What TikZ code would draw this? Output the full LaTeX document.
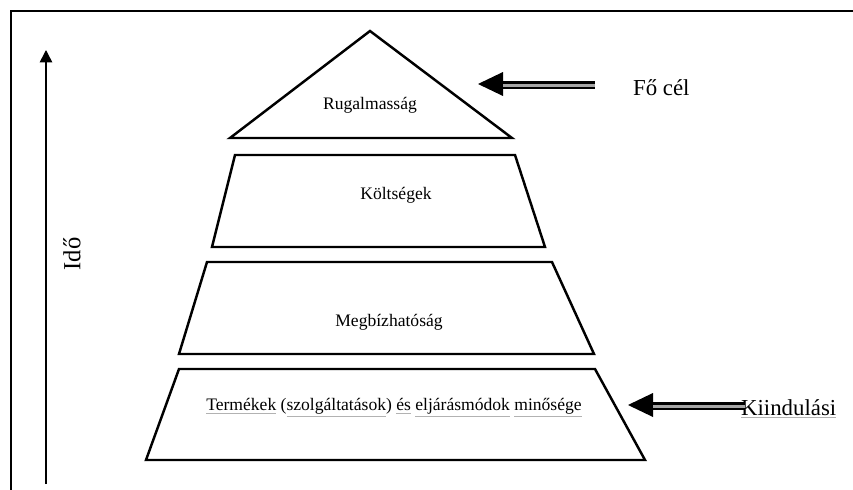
\documentclass[tikz,border=0pt]{standalone}
\usepackage{fontspec}
\setmainfont{Liberation Serif}
\usetikzlibrary{arrows.meta}

\newcommand{\spellul}[1]{\textcolor{black!30}{\underline{\textcolor{black}{#1}}}}

\begin{document}
\begin{tikzpicture}
  [x=0.02cm,y=-0.02cm,every node/.style={font=\fontsize{10}{12}\selectfont,inner sep=1pt},
   level/.style={line width=1.4pt,line join=miter},
   side/.style={font=\fontsize{13}{15}\selectfont,anchor=west}]
  \useasboundingbox (0,0) rectangle (853,490);
  % frame
  \draw[line width=1.3pt] (853,11) -- (11,11) -- (11,490);

  % time axis
  \coordinate (t0) at (46,484);
  \coordinate (t1) at (46,50);
  \draw[line width=0.9pt,-{Triangle[length=7pt,width=7pt]}] (t0) -- (t1);
  \node[rotate=90,font=\fontsize{14}{16}\selectfont] (ido) at (72,254) {Idő};

  % pyramid
  \draw[level] (230,138) -- (370,31) -- (512,138) -- cycle;
  \draw[level] (235,155) -- (515,155) -- (545,247) -- (212,247) -- cycle;
  \draw[level] (207,262) -- (552,262) -- (594,354) -- (179,354) -- cycle;
  \draw[level] (179,369) -- (595,369) -- (645,460) -- (146,460) -- cycle;
  \node (rug) at (370,105) {Rugalmasság};
  \node (kolt) at (396,195) {Költségek};
  \node (megb) at (389,322) {Megbízhatóság};
  \node (term) at (394,408) {\spellul{Termékek} (\spellul{szolgáltatások}) \spellul{és} \spellul{eljárásmódok} \spellul{minősége}};

  % goal and start
  \node[side] (cel) at (631,88) {Fő cél};
  \node[side] (kiind) at (739,409) {\spellul{Kiindulási}};
  \coordinate (celtip) at (478,84);
  \coordinate (kitip) at (628,405);
  \foreach \tip in {celtip,kitip} {
    \fill (\tip) -- ++(25,-12) -- ++(0,24) -- cycle;
    \draw[black!35,line width=1.2pt] ([shift={(25,1.5)}]\tip) -- ++(92,0);
    \draw[line width=2.2pt] ([shift={(25,-1.5)}]\tip) -- ++(92,0);
    \draw[line width=0.9pt] ([shift={(25,4)}]\tip) -- ++(92,0);
  }
\end{tikzpicture}
\end{document}
